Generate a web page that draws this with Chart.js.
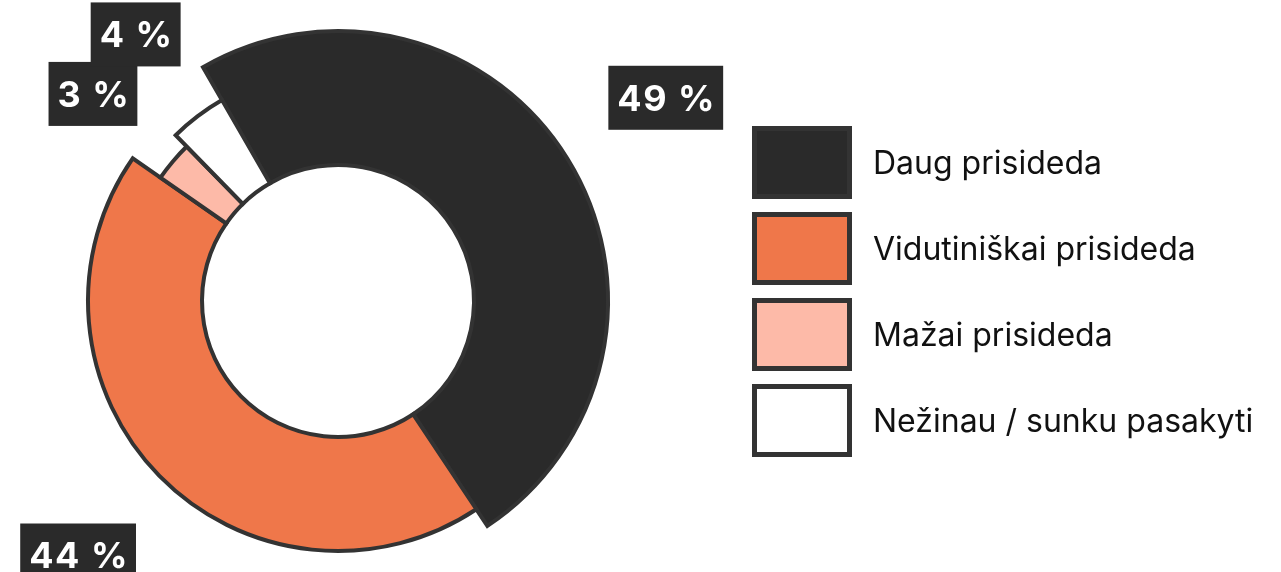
<!DOCTYPE html>
<html>
<head>
<meta charset="utf-8">
<script src="https://cdn.jsdelivr.net/npm/chart.js@4"></script>
<style>
  body { margin: 0; background: #fff; }
  #wrap { position: relative; width: 1281px; height: 572px; }
  #legend { position: absolute; left: 752px; top: 126px; font-family: Inter, sans-serif; font-size: 32px; color: #111; }
  .item { display: flex; align-items: center; height: 73px; margin-bottom: 13px; }
  .box { width: 90px; height: 63px; border: 5px solid #333; }
  .item span { margin-left: 21px; }
</style>
</head>
<body>
<div id="wrap">
  <canvas id="myChart" width="1281" height="572"></canvas>
  <div id="legend"></div>
</div>
<script>
const labels = ['Daug prisideda', 'Vidutiniškai prisideda', 'Mažai prisideda', 'Nežinau / sunku pasakyti'];
const values = [49, 44, 3, 4];
const colors = ['#2a2a2a', '#ef774a', '#fdbaa8', '#ffffff'];

// each slice gets its own ring depth (outer radius relative to the base one)
const depth = [1.08, 1, 0.865, 0.928];

const ringDepth = {
  id: 'ringDepth',
  afterDatasetsUpdate(chart) {
    const meta = chart.getDatasetMeta(0);
    meta.data.forEach((arc, i) => {
      arc.outerRadius = meta.controller.outerRadius * depth[i];
    });
  }
};

const pctLabels = {
  id: 'pctLabels',
  afterDatasetsDraw(chart) {
    const ctx = chart.ctx;
    const meta = chart.getDatasetMeta(0);
    ctx.save();
    ctx.font = 'bold 36px Inter';
    ctx.letterSpacing = '1.5px';
    ctx.textAlign = 'center';
    ctx.textBaseline = 'middle';
    meta.data.forEach((arc, i) => {
      const p = arc.getProps(['x', 'y', 'startAngle', 'endAngle', 'outerRadius']);
      const mid = (p.startAngle + p.endAngle) / 2;
      const ux = Math.cos(mid), uy = Math.sin(mid);
      const txt = values[i] + ' %';
      const w = ctx.measureText(txt).width + 16;
      const h = 64;
      const d = p.outerRadius + 50 + w / 2 * Math.abs(ux) + h / 2 * Math.abs(uy);
      const cx = p.x + d * ux, cy = p.y + d * uy;
      ctx.fillStyle = '#2a2a2a';
      ctx.fillRect(cx - w / 2, cy - h / 2, w, h);
      ctx.fillStyle = '#fff';
      ctx.fillText(txt, cx + 1, cy + 2);
    });
    ctx.restore();
  }
};

const ctx = document.getElementById('myChart').getContext('2d');
const chart = new Chart(ctx, {
  type: 'doughnut',
  data: {
    labels: labels,
    datasets: [{
      data: values,
      backgroundColor: colors,
      borderColor: '#333',
      borderWidth: 4,
      borderJoinStyle: 'miter',
      hoverOffset: 0,
      clip: false
    }]
  },
  options: {
    responsive: false,
    animation: false,
    rotation: -30,
    radius: 250,
    cutout: '54.4%',
    layout: { padding: { left: 0, right: 605, top: 30, bottom: 0 } },
    plugins: { legend: { display: false }, tooltip: { enabled: false } }
  },
  plugins: [ringDepth, pctLabels]
});

// html legend
const legend = document.getElementById('legend');
labels.forEach((l, i) => {
  const item = document.createElement('div');
  item.className = 'item';
  item.innerHTML = '<div class="box" style="background:' + colors[i] + '"></div><span>' + l + '</span>';
  legend.appendChild(item);
});
</script>
</body>
</html>
